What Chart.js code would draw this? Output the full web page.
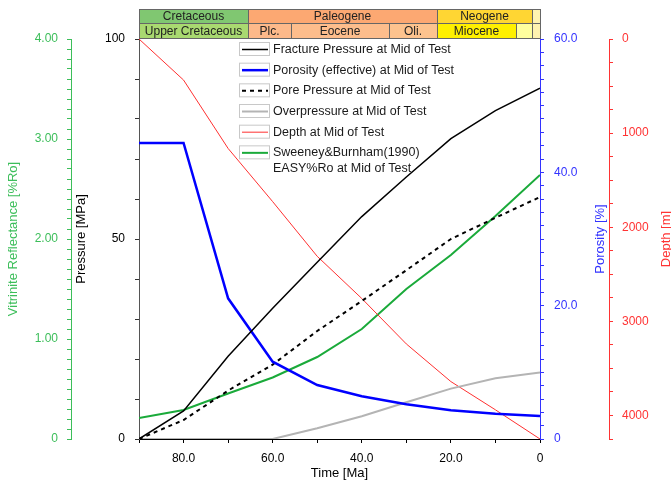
<!DOCTYPE html>
<html><head><meta charset="utf-8">
<script src="https://cdn.jsdelivr.net/npm/chart.js@4.4.0/dist/chart.umd.min.js"></script>
<style>html,body{margin:0;padding:0;background:#fff;overflow:hidden}</style>
</head><body>
<canvas id="c" width="671" height="483"></canvas>
<script>
// ---- data ----
const timesMa = [90, 80, 70, 60, 50, 40, 30, 20, 10, 0];
const fracturePressure = [0, 7.0, 20.7, 32.7, 44.2, 55.6, 65.5, 75.1, 82.1, 87.7];
const porosityEff = [44.4, 44.4, 21.1, 11.6, 8.1, 6.4, 5.2, 4.3, 3.8, 3.45];
const porePressure = [0, 4.75, 12.1, 18.6, 27.0, 34.5, 42.2, 50.0, 55.3, 60.5];
const overpressure = [0, 0, 0, 0, 2.7, 5.7, 9.2, 12.6, 15.2, 16.6];
const depthM = [0, 436, 1163, 1728, 2309, 2757, 3240, 3640, 3940, 4250];
const vitriniteRo = [0.21, 0.29, 0.455, 0.615, 0.82, 1.10, 1.50, 1.84, 2.23, 2.64];

const seriesLabels = [
  ['Fracture Pressure at Mid of Test'],
  ['Porosity (effective) at Mid of Test'],
  ['Pore Pressure at Mid of Test'],
  ['Overpressure at Mid of Test'],
  ['Depth at Mid of Test'],
  ['Sweeney&Burnham(1990)', 'EASY%Ro at Mid of Test']
];

const periodNames = ['Cretaceous', 'Paleogene', 'Neogene', ''];
const periodStart = [90, 65.5, 23.03, 1.8];
const periodEnd = [65.5, 23.03, 1.8, 0];
const epochNames = ['Upper Cretaceous', 'Plc.', 'Eocene', 'Oli.', 'Miocene', '', ''];
const epochStart = [90, 65.5, 55.8, 33.9, 23.03, 5.33, 1.8];
const epochEnd = [65.5, 55.8, 33.9, 23.03, 5.33, 1.8, 0];

// ---- styles ----
const periodColors = ['#80c771', '#fca872', '#ffd633', '#fff3b0'];
const epochColors = ['#a9d970', '#fdb98a', '#fdbd8c', '#fdc38e', '#fff000', '#ffff9e', '#fff3b0'];
const GREEN = '#3cbe5a', BLUE = '#3333ff', RED = '#ff3333';
const FONT = "'Liberation Sans', Arial, sans-serif";

Chart.defaults.font.family = FONT;
Chart.defaults.font.size = 12;

const pts = arr => timesMa.map((t, i) => ({x: t, y: arr[i]}));

const datasets = [
  {label: seriesLabels[0].join(' '), data: pts(fracturePressure), yAxisID: 'yP', borderColor: '#000', borderWidth: 1.5},
  {label: seriesLabels[1].join(' '), data: pts(porosityEff), yAxisID: 'yPor', borderColor: '#0000ff', borderWidth: 2.5},
  {label: seriesLabels[2].join(' '), data: pts(porePressure), yAxisID: 'yP', borderColor: '#000', borderWidth: 2, borderDash: [4, 4]},
  {label: seriesLabels[3].join(' '), data: pts(overpressure), yAxisID: 'yP', borderColor: '#b4b4b4', borderWidth: 2},
  {label: seriesLabels[4].join(' '), data: pts(depthM), yAxisID: 'yD', borderColor: '#ff3030', borderWidth: 1},
  {label: seriesLabels[5].join(' '), data: pts(vitriniteRo), yAxisID: 'yV', borderColor: '#1aaa3a', borderWidth: 2}
].map(d => Object.assign({pointRadius: 0, tension: 0, fill: false}, d));

const decor = {
  id: 'decor',
  afterDatasetsDraw(chart) {
    const ctx = chart.ctx;
    // legend (no background)
    ctx.save();
    ctx.font = '12.5px ' + FONT;
    ctx.textBaseline = 'middle';
    ctx.textAlign = 'left';
    datasets.forEach((d, i) => {
      const cy = 49 + i * 20.67;
      ctx.setLineDash([]);
      ctx.lineWidth = 1;
      ctx.strokeStyle = '#c8c8c8';
      ctx.strokeRect(239.5, cy - 6.5, 30, 13);
      ctx.beginPath();
      ctx.strokeStyle = d.borderColor;
      ctx.lineWidth = d.borderWidth;
      ctx.setLineDash(d.borderDash || []);
      ctx.moveTo(242, cy + 0.5);
      ctx.lineTo(268, cy + 0.5);
      ctx.stroke();
      ctx.setLineDash([]);
      ctx.fillStyle = '#1a1a1a';
      seriesLabels[i].forEach((t, k) => ctx.fillText(t, 273, cy + 0.5 + k * 16));
    });
    ctx.restore();
  },
  afterDraw(chart) {
    const ctx = chart.ctx, xs = chart.scales.x;
    ctx.save();
    ctx.font = '12px ' + FONT;
    ctx.textAlign = 'center';
    ctx.textBaseline = 'middle';
    const row = (names, st, en, cols, y0, y1) => {
      names.forEach((n, i) => {
        const a = Math.round(xs.getPixelForValue(st[i])), b = Math.round(xs.getPixelForValue(en[i]));
        ctx.fillStyle = cols[i];
        ctx.fillRect(a, y0, b - a, y1 - y0);
        ctx.strokeStyle = '#666';
        ctx.lineWidth = 1;
        ctx.strokeRect(a + 0.5, y0 + 0.5, b - a, y1 - y0);
        if (n) { ctx.fillStyle = '#222'; ctx.fillText(n, (a + b) / 2, (y0 + y1) / 2 + 1); }
      });
    };
    row(periodNames, periodStart, periodEnd, periodColors, 9, 23);
    row(epochNames, epochStart, epochEnd, epochColors, 23, 38);
    // right axis titles (read bottom to top)
    ctx.font = '13px ' + FONT;
    const cy = (chart.chartArea.top + chart.chartArea.bottom) / 2;
    [['Porosity [%]', BLUE, 600.5], ['Depth [m]', RED, 666.5]].forEach(([t, c, x]) => {
      ctx.save();
      ctx.translate(x, cy);
      ctx.rotate(-Math.PI / 2);
      ctx.fillStyle = c;
      ctx.fillText(t, 0, 0);
      ctx.restore();
    });
    ctx.restore();
  }
};

const isMult = (v, m) => Math.abs(v / m - Math.round(v / m)) < 1e-6;

new Chart(document.getElementById('c'), {
  type: 'line',
  data: {datasets},
  options: {
    responsive: false, animation: false, devicePixelRatio: 1,
    layout: {padding: {top: 39, left: 0, right: 0, bottom: 0}},
    plugins: {legend: {display: false}, tooltip: {enabled: false}},
    scales: {
      x: {
        type: 'linear', position: 'bottom', reverse: true, min: 0, max: 90, z: 1,
        ticks: {stepSize: 10, autoSkip: false, maxRotation: 0, padding: 8, color: '#000', font: {size: 12},
          callback: v => isMult(v, 20) ? (v === 0 ? '0' : v.toFixed(1)) : ''},
        grid: {drawOnChartArea: false, drawTicks: true, tickLength: 4, color: '#000'},
        border: {color: '#000'},
        title: {display: true, text: 'Time [Ma]', color: '#000', font: {size: 13}, padding: {top: 0, bottom: 2}},
        afterFit: s => { s.height = 44; }
      },
      yP: {
        type: 'linear', position: 'left', min: 0, max: 100, weight: 0, z: 1,
        ticks: {stepSize: 10, autoSkip: false, padding: 10, color: '#000',
          callback: v => isMult(v, 50) ? String(v) : ''},
        grid: {drawOnChartArea: false, tickLength: 4, color: '#333'},
        border: {color: '#555'},
        title: {display: true, text: 'Pressure [MPa]', color: '#000', font: {size: 13}, padding: {top: 3}},
        afterFit: s => { s.width = 68; }
      },
      yV: {
        type: 'linear', position: 'left', min: 0, max: 4, weight: 1,
        ticks: {stepSize: 0.1, autoSkip: false, padding: 9, color: GREEN,
          callback: v => isMult(v, 1) ? (Math.round(v) === 0 ? '0' : Math.round(v).toFixed(2)) : ''},
        grid: {drawOnChartArea: false, tickLength: 4, color: GREEN},
        border: {color: GREEN},
        title: {display: true, text: 'Vitrinite Reflectance [%Ro]', color: GREEN, font: {size: 13}, padding: {top: 6}},
        afterFit: s => { s.width = 71; }
      },
      yPor: {
        type: 'linear', position: 'right', min: 0, max: 60, weight: 0,
        ticks: {stepSize: 2, autoSkip: false, padding: 10, color: BLUE,
          callback: v => isMult(v, 20) ? (v === 0 ? '0' : v.toFixed(1)) : ''},
        grid: {drawOnChartArea: false, tickLength: 4, color: BLUE},
        border: {color: BLUE},
        afterFit: s => { s.width = 69; }
      },
      yD: {
        type: 'linear', position: 'right', min: 0, max: 4250, reverse: true, weight: 1,
        ticks: {stepSize: 250, autoSkip: false, padding: 9, color: RED,
          callback: v => isMult(v, 1000) ? String(v) : ''},
        grid: {drawOnChartArea: false, tickLength: 4, color: RED},
        border: {color: RED},
        afterFit: s => { s.width = 62; }
      }
    }
  },
  plugins: [decor]
});
</script>
</body></html>
